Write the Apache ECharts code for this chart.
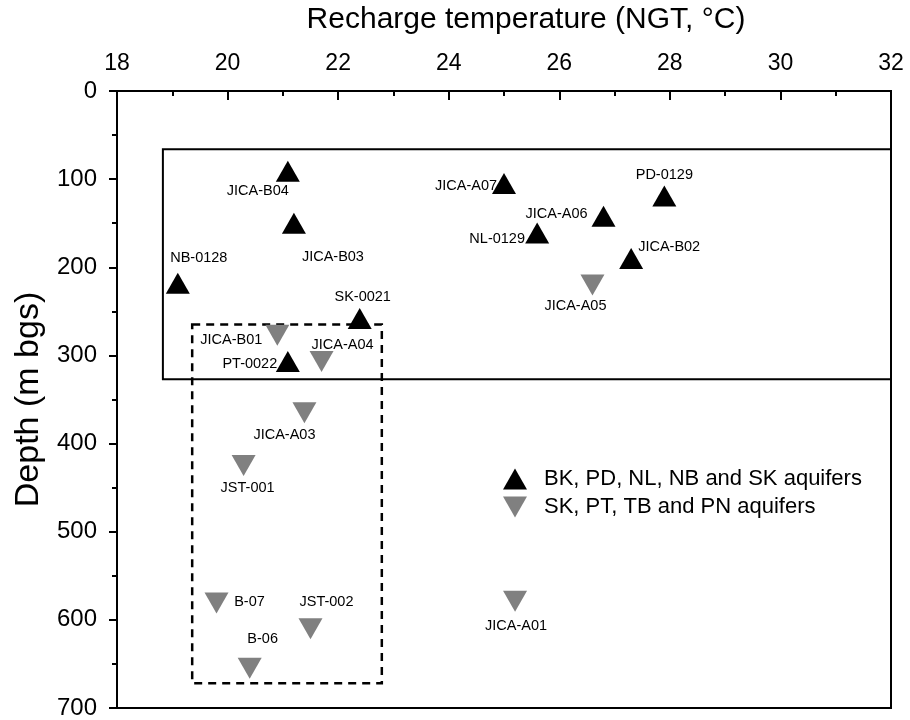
<!DOCTYPE html>
<html>
<head>
<meta charset="utf-8">
<script src="https://cdn.jsdelivr.net/npm/echarts@6/dist/echarts.min.js"></script>
<style>
  html, body { margin: 0; padding: 0; background: #fff; }
  #chart { width: 910px; height: 720px; }
</style>
</head>
<body>
<div id="chart"></div>
<script>
// Wells tapping the BK, PD, NL, NB and SK aquifers: [NGT (°C), depth (m bgs)]
const upperNames = ['JICA-B04', 'JICA-B03', 'NB-0128', 'SK-0021', 'PT-0022',
                    'JICA-A07', 'JICA-A06', 'NL-0129', 'PD-0129', 'JICA-B02'];
const upperTemp  = [21.09, 21.2, 19.1, 22.39, 21.09, 25.0, 26.8, 25.6, 27.9, 27.3];
const upperDepth = [91, 150, 218, 258, 307, 105, 142, 161, 119, 190];

// Wells tapping the SK, PT, TB and PN aquifers
const lowerNames = ['JICA-A05', 'JICA-B01', 'JICA-A04', 'JICA-A03', 'JST-001',
                    'B-07', 'JST-002', 'B-06', 'JICA-A01'];
const lowerTemp  = [26.6, 20.9, 21.7, 21.39, 20.29, 19.8, 21.5, 20.4, 25.2];
const lowerDepth = [220, 277, 307, 365, 425, 581, 610, 655, 579];

const seriesNames = ['BK, PD, NL, NB and SK aquifers', 'SK, PT, TB and PN aquifers'];
const xTicks = [18, 20, 22, 24, 26, 28, 30, 32];
const yTicks = [0, 100, 200, 300, 400, 500, 600, 700];

// Grouping boxes, in data units: [[x0, y0], [x1, y1]]
const shallowBox = [[18.83, 66], [32, 327]];
const deepBox    = [[19.36, 265], [22.79, 672]];

// Where each well label sits relative to its marker (pixels)
const labelOffset = {
  'JICA-B04': [-30, 20], 'JICA-B03': [39, 34], 'NB-0128': [21, -25],
  'SK-0021': [3, -21], 'PT-0022': [-38, 2], 'JICA-A07': [-38, 2],
  'JICA-A06': [-47, -2], 'NL-0129': [-40, 6], 'PD-0129': [0, -21],
  'JICA-B02': [38, -11], 'JICA-A05': [-17, 21], 'JICA-B01': [-46, 5],
  'JICA-A04': [21, -17], 'JICA-A03': [-20, 22], 'JST-001': [4, 22],
  'B-07': [33, -1], 'JST-002': [16, -27], 'B-06': [13, -29], 'JICA-A01': [1, 25]
};

const FONT = 'Liberation Sans, Arial, sans-serif';

function points(names, xs, ys) {
  return names.map((n, i) => ({
    name: n,
    value: [xs[i], ys[i]],
    label: { offset: labelOffset[n] }
  }));
}

const pointLabel = {
  show: true,
  position: 'inside',
  align: 'center',
  verticalAlign: 'middle',
  formatter: p => p.name,
  color: '#000',
  fontFamily: FONT,
  fontSize: 14.5
};

const downTriangle = 'path://M0,0 L20,0 L10,17.5 Z';

const chart = echarts.init(document.getElementById('chart'), null, { renderer: 'canvas' });

chart.setOption({
  animation: false,
  backgroundColor: '#fff',
  grid: {
    left: 117, right: 19, top: 87, bottom: 10,
    show: true, borderColor: '#000', borderWidth: 2, backgroundColor: 'transparent'
  },
  legend: {
    orient: 'vertical',
    left: 498, top: 463,
    itemWidth: 24, itemHeight: 21, itemGap: 6,
    textStyle: { fontFamily: FONT, fontSize: 22, color: '#000', padding: [0, 0, 0, 12] },
    data: [
      { name: seriesNames[0], icon: 'triangle' },
      { name: seriesNames[1], icon: downTriangle }
    ]
  },
  xAxis: {
    type: 'value',
    position: 'top',
    min: xTicks[0], max: xTicks[xTicks.length - 1], interval: 2,
    name: 'Recharge temperature (NGT, \u00B0C)',
    nameLocation: 'middle', nameGap: 56,
    nameTextStyle: { fontFamily: FONT, fontSize: 30, color: '#000', padding: [0, 0, 0, 44] },
    axisLine: { lineStyle: { color: '#000', width: 2 } },
    axisTick: { inside: true, length: 9, lineStyle: { color: '#000', width: 2 } },
    minorTick: { show: true, splitNumber: 2, length: 5, lineStyle: { color: '#000', width: 2 } },
    axisLabel: { fontFamily: FONT, fontSize: 23, color: '#000', margin: 16 },
    splitLine: { show: false }
  },
  yAxis: {
    type: 'value',
    inverse: true,
    min: yTicks[0], max: yTicks[yTicks.length - 1], interval: 100,
    name: 'Depth (m bgs)',
    nameLocation: 'middle', nameGap: 70, nameRotate: 90,
    nameTextStyle: { fontFamily: FONT, fontSize: 34, color: '#000' },
    axisLine: { lineStyle: { color: '#000', width: 2 } },
    axisTick: { inside: false, length: 8, lineStyle: { color: '#000', width: 2 } },
    minorTick: { show: true, splitNumber: 2, length: 5, lineStyle: { color: '#000', width: 2 } },
    axisLabel: { fontFamily: FONT, fontSize: 24, color: '#000', margin: 20 },
    splitLine: { show: false }
  },
  series: [
    {
      name: seriesNames[0],
      type: 'scatter',
      symbol: 'triangle',
      symbolSize: [24, 21],
      itemStyle: { color: '#000', opacity: 1 },
      label: pointLabel,
      data: points(upperNames, upperTemp, upperDepth),
      markArea: {
        silent: true,
        itemStyle: { color: 'transparent', borderColor: '#000', borderWidth: 2 },
        data: [[{ coord: shallowBox[0] }, { coord: shallowBox[1] }]]
      },
      z: 3
    },
    {
      name: seriesNames[1],
      type: 'scatter',
      symbol: downTriangle,
      symbolSize: [24, 21],
      itemStyle: { color: '#808080', opacity: 1 },
      label: pointLabel,
      data: points(lowerNames, lowerTemp, lowerDepth),
      markArea: {
        silent: true,
        itemStyle: {
          color: 'transparent', borderColor: '#000', borderWidth: 2.5,
          borderType: [8, 6]
        },
        data: [[{ coord: deepBox[0] }, { coord: deepBox[1] }]]
      },
      z: 3
    }
  ]
});
</script>
</body>
</html>
